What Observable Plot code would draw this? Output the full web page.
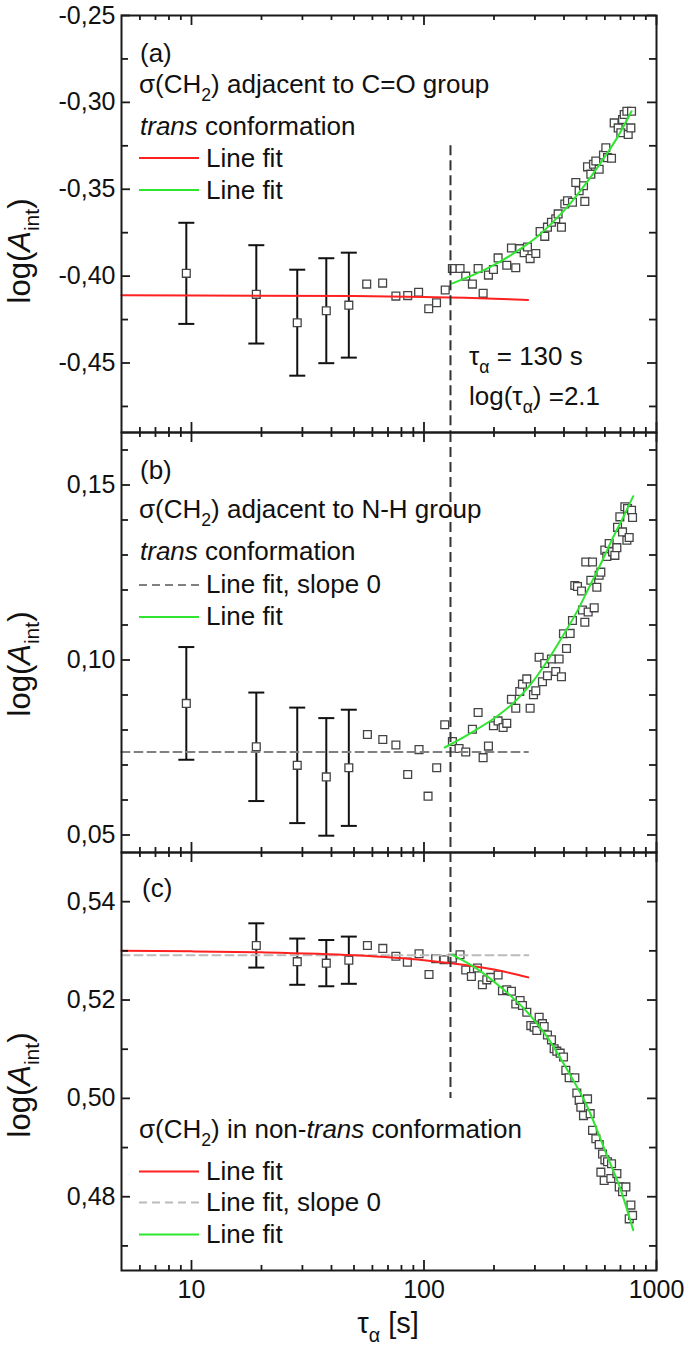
<!DOCTYPE html>
<html><head><meta charset="utf-8">
<script src="https://cdn.jsdelivr.net/npm/d3@7"></script>
<script src="https://cdn.jsdelivr.net/npm/@observablehq/plot@0.6"></script>
<style>
body{margin:0;background:#fff;}
#chart{position:relative;width:685px;height:1349px;overflow:hidden;background:#fff;}
</style></head><body><div id="chart"></div><script>
// ---------- shared x ----------
const xDomain = [5, 1000];
const xMinor = [6,7,8,9,20,30,40,50,60,70,80,90,200,300,400,500,600,700,800,900];
const xMajor = [10,100,1000];
const tauAlpha = 130;

// ---------- error-bar points ----------
const errTau = [9.5, 19, 28.5, 38, 47.5];
const errMeanA = [-0.3984, -0.4105, -0.4268, -0.4199, -0.4167];
const errHalfA = [0.0291, 0.0283, 0.0305, 0.0302, 0.0302];
const errMeanB = [0.0876, 0.0752, 0.0699, 0.0666, 0.0692];
const errHalfB = [0.0161, 0.0155, 0.0165, 0.0168, 0.0166];
const errTauC = [19, 28.5, 38, 47.5];
const errMeanC = [0.5311, 0.5278, 0.5275, 0.5281];
const errHalfC = [0.0045, 0.0047, 0.0047, 0.0048];

// ---------- panel (a) ----------
const tauA = [56.7,66.4,75.7,85.1,94.8,104.8,113.2,123.4,132.5,142.9,151.2,161.5,170.9,179.6,189.3,198.9,208.3,227.0,237.7,248.1,258.2,269.6,278.6,286.1,302.6,315.8,330.7,339.6,353.3,368.8,377.5,390.1,403.3,414.1,435.1,449.7,464.8,485.3,491.7,505.0,521.9,535.8,548.3,566.7,591.6,605.4,615.5,640.4,657.6,684.3,702.6,714.3,726.2,745.7,755.5,775.8,781.0];
const valA = [-0.4046,-0.4040,-0.4115,-0.4112,-0.4093,-0.4188,-0.4153,-0.4080,-0.3956,-0.3956,-0.4000,-0.4046,-0.3956,-0.4099,-0.3994,-0.3962,-0.3895,-0.3937,-0.3838,-0.3952,-0.3842,-0.3865,-0.3832,-0.3899,-0.3870,-0.3743,-0.3771,-0.3718,-0.3690,-0.3670,-0.3642,-0.3718,-0.3585,-0.3566,-0.3575,-0.3461,-0.3509,-0.3480,-0.3570,-0.3371,-0.3413,-0.3356,-0.3337,-0.3385,-0.3303,-0.3261,-0.3318,-0.3322,-0.3118,-0.3147,-0.3175,-0.3099,-0.3070,-0.3051,-0.3185,-0.3147,-0.3051];
const redTauA = [5, 50, 100, 150, 200, 280];
const redValA = [-0.4110, -0.4115, -0.4120, -0.4125, -0.4130, -0.4138];
const greenTauA = [132.5, 187.4, 252.3, 307.6, 362.9, 428.0, 505.0, 595.6, 679.8, 781.0];
const greenValA = [-0.4042, -0.3956, -0.3855, -0.3772, -0.3682, -0.3578, -0.3455, -0.3318, -0.3200, -0.3051];

// ---------- panel (b) ----------
const tauB = [57.1,66.5,75.7,85.1,95.2,104.1,113.4,122.8,132.5,141.5,151.2,161.5,170.9,179.6,189.3,198.9,208.3,218.9,227.0,237.7,248.1,258.2,265.1,276.7,286.1,295.7,302.6,312.7,323.2,330.7,339.6,353.3,368.8,381.2,390.1,398.0,410.1,425.2,435.1,445.3,457.2,475.8,480.4,491.7,496.6,508.2,521.9,530.6,539.5,553.8,566.7,576.2,599.5,611.5,625.8,647.0,662.1,675.3,679.8,695.6,714.3,731.0,745.7,750.7,763.0,781.0,788.7];
const valB = [0.0787,0.0773,0.0757,0.0673,0.0744,0.0611,0.0692,0.0815,0.0767,0.0747,0.0737,0.0802,0.0850,0.0721,0.0754,0.0812,0.0826,0.0807,0.0819,0.0888,0.0862,0.0910,0.0931,0.0946,0.0862,0.0901,0.0912,0.1008,0.0938,0.0990,0.0955,0.1003,0.0967,0.1003,0.0952,0.1075,0.1033,0.1076,0.1113,0.1213,0.1210,0.1197,0.1143,0.1108,0.1280,0.1137,0.1228,0.1280,0.1149,0.1208,0.1242,0.1251,0.1314,0.1296,0.1333,0.1309,0.1299,0.1321,0.1379,0.1409,0.1366,0.1438,0.1342,0.1433,0.1350,0.1428,0.1407];
const grayTauB = [5, 280];
const grayValB = [0.0737, 0.0737];
const greenTauB = [122.8, 164.2, 207.0, 244.1, 288.0, 339.6, 400.6, 457.2, 521.9, 585.9, 647.0, 714.3, 793.8];
const greenValB = [0.0750, 0.0797, 0.0840, 0.0879, 0.0931, 0.0998, 0.1075, 0.1141, 0.1218, 0.1285, 0.1347, 0.1404, 0.1468];

// ---------- panel (c) ----------
const tauC = [57.1,66.5,75.7,84.8,95.2,105.1,112.3,122.0,132.5,142.9,151.2,159.9,169.7,178.3,186.2,193.7,208.3,217.5,227.0,237.7,248.2,259.1,265.2,276.8,288.0,297.7,305.6,312.8,323.3,328.6,339.6,353.4,362.9,372.6,385.1,398.1,407.4,421.1,445.4,454.3,464.9,472.6,485.3,505.1,518.6,530.8,548.5,566.9,576.4,586.0,595.7,599.8,615.7,636.4,640.6,675.4,691.3,714.4,738.5,763.2,776.1,789.0];
const valC = [0.5311,0.5305,0.5289,0.5277,0.5294,0.5252,0.5284,0.5282,0.5285,0.5292,0.5261,0.5248,0.5265,0.5231,0.5241,0.5246,0.5251,0.5219,0.5221,0.5218,0.5192,0.5199,0.5189,0.5175,0.5148,0.5145,0.5138,0.5165,0.5152,0.5146,0.5129,0.5119,0.5101,0.5096,0.5092,0.5084,0.5057,0.5042,0.5042,0.5011,0.4996,0.4982,0.4965,0.4999,0.4969,0.4935,0.4918,0.4906,0.4850,0.4887,0.4833,0.4875,0.4871,0.4837,0.4867,0.4847,0.4820,0.4810,0.4820,0.4755,0.4783,0.4762];
const redTauC = [5, 10, 20, 50, 100, 150, 200, 250, 281];
const redValC = [0.5300, 0.5299, 0.5297, 0.5291, 0.5281, 0.5271, 0.5262, 0.5252, 0.5246];
const grayTauC = [5, 281];
const grayValC = [0.5291, 0.5291];
const greenTauC = [132.5, 169.7, 213.9, 278.6, 339.6, 414.2, 505.1, 615.7, 702.9, 794.0];
const greenValC = [0.5292, 0.5263, 0.5226, 0.5175, 0.5124, 0.5057, 0.4982, 0.4881, 0.4813, 0.4732];

// ---------- y ticks ----------
const yMajorA = [-0.45, -0.40, -0.35, -0.30, -0.25];
const yMinorA = [-0.475, -0.425, -0.375, -0.325, -0.275];
const yMajorB = [0.05, 0.10, 0.15];
const yMinorB = [0.06, 0.07, 0.08, 0.09, 0.11, 0.12, 0.13, 0.14, 0.16];
const yMajorC = [0.48, 0.50, 0.52, 0.54];
const yMinorC = [0.47, 0.49, 0.51, 0.53];

// ---------- helpers ----------
const zip = (xs, ys) => xs.map((t, i) => ({t, v: ys[i]}));
const errRows = (ts, m, h) => ts.map((t, i) => ({t, v: m[i], lo: m[i] - h[i], hi: m[i] + h[i]}));
const FONT = "'Liberation Sans', Arial, Helvetica, sans-serif";
const W = 685, ML = 121, MR = 29, PW = W - ML - MR;
const INK = "#111";
const RED = "#ff2020", GREEN = "#2ee62e";
const SQ = {symbol: "square", r: 4.4, stroke: "#444", fill: "white", strokeWidth: 1.3};
const capSymbol = {draw(ctx) { ctx.moveTo(-8, 0); ctx.lineTo(8, 0); }};
const container = document.getElementById("chart");
const FS = 26;

function errorMarks(rows) {
  return [
    Plot.ruleX(rows, {x: "t", y1: "lo", y2: "hi", stroke: INK, strokeWidth: 2}),
    Plot.dot(rows, {x: "t", y: "hi", symbol: capSymbol, stroke: INK, strokeWidth: 2, fill: "none"}),
    Plot.dot(rows, {x: "t", y: "lo", symbol: capSymbol, stroke: INK, strokeWidth: 2, fill: "none"}),
    Plot.dot(rows, {x: "t", y: "v", ...SQ})
  ];
}

function makePanel({svgTop, mTop, plotH, mBottom, yDomain, yMajor, yMinor, marks, xLabels}) {
  const H = mTop + plotH + mBottom;
  const fmt = v => v.toFixed(2).replace(".", ",");
  const ts = {stroke: "#1a1a1a", strokeWidth: 1.8};
  const chart = Plot.plot({
    width: W, height: H,
    marginLeft: ML, marginRight: MR, marginTop: mTop, marginBottom: mBottom,
    style: {fontFamily: FONT, background: "transparent", overflow: "visible", color: INK},
    x: {type: "log", domain: xDomain, axis: null},
    y: {domain: yDomain, axis: null},
    marks: [
      ...marks,
      Plot.ruleX(xMinor, {x: d => d, insetTop: plotH - 5, ...ts}),
      Plot.ruleX(xMinor, {x: d => d, insetBottom: plotH - 5, ...ts}),
      Plot.ruleX(xMajor, {x: d => d, insetTop: plotH - 10, ...ts}),
      Plot.ruleX(xMajor, {x: d => d, insetBottom: plotH - 10, ...ts}),
      Plot.ruleY(yMinor, {y: d => d, insetRight: PW - 7, ...ts}),
      Plot.ruleY(yMinor, {y: d => d, insetLeft: PW - 7, ...ts}),
      Plot.ruleY(yMajor, {y: d => d, insetRight: PW - 9, ...ts}),
      Plot.ruleY(yMajor, {y: d => d, insetLeft: PW - 9, ...ts}),
      Plot.text(yMajor, {y: d => d, frameAnchor: "left", dx: -6, textAnchor: "end", text: fmt, fontSize: 25, fill: INK}),
      xLabels ? Plot.text(xMajor, {x: d => d, frameAnchor: "bottom", lineAnchor: "top", dy: 10, text: d => String(d), fontSize: 25, fill: INK}) : null,
      Plot.frame({stroke: "#1a1a1a", strokeWidth: 2})
    ]
  });
  chart.style.position = "absolute";
  chart.style.left = "0px";
  chart.style.top = svgTop + "px";
  container.appendChild(chart);
  return chart;
}

function rich(t, segs, fs) {
  t.text(null);
  const shift = fs * 0.3;
  let cur = 0;
  for (const [s, st] of segs) {
    const sp = t.append("tspan").text(s);
    const target = st.includes("sub") ? shift : 0;
    if (target !== cur) { sp.attr("dy", target - cur); cur = target; }
    if (st.includes("sub")) sp.attr("font-size", fs * 0.68);
    if (st.includes("i")) sp.attr("font-style", "italic");
  }
}
function addText(svg, svgTop, x, yPage, segs, fs, opts = {}) {
  const y = yPage - svgTop;
  const t = d3.select(svg).append("text")
    .attr("x", x).attr("y", y)
    .attr("font-size", fs).attr("font-family", FONT).attr("fill", INK)
    .attr("text-anchor", opts.anchor || "start");
  if (opts.rotate) t.attr("transform", `rotate(${opts.rotate} ${x} ${y})`);
  rich(t, segs, fs);
}
function addSwatch(svg, svgTop, yPage, color, dash) {
  const l = d3.select(svg).append("line")
    .attr("x1", 139).attr("x2", 199).attr("y1", yPage - svgTop).attr("y2", yPage - svgTop)
    .attr("stroke", color).attr("stroke-width", 2);
  if (dash) l.attr("stroke-dasharray", dash);
}

const yTitle = [["log(", ""], ["A", "i"], ["int", "sub"], [")", ""]];
const ch2 = [["σ(CH", ""], ["2", "sub"]];
const transConf = [["trans", "i"], [" conformation", ""]];

// ---------- panel (a) ----------
const svgA = makePanel({
  svgTop: 0, mTop: 15, plotH: 417, mBottom: 10,
  yDomain: [-0.49, -0.25], yMajor: yMajorA, yMinor: yMinorA,
  marks: [
    ...errorMarks(errRows(errTau, errMeanA, errHalfA)),
    Plot.dot(zip(tauA, valA), {x: "t", y: "v", ...SQ}),
    Plot.line(zip(redTauA, redValA), {x: "t", y: "v", stroke: RED, strokeWidth: 2, curve: "monotone-x"}),
    Plot.line(zip(greenTauA, greenValA), {x: "t", y: "v", stroke: GREEN, strokeWidth: 2, curve: "monotone-x"}),
    Plot.ruleX([tauAlpha], {x: d => d, y1: -0.325, y2: -0.49, stroke: "#333", strokeWidth: 2, strokeDasharray: "10,5"})
  ]
});
addText(svgA, 0, 140, 62, [["(a)", ""]], FS);
addText(svgA, 0, 139, 93, [...ch2, [") adjacent to C=O group", ""]], FS);
addText(svgA, 0, 140, 135, transConf, FS);
addSwatch(svgA, 0, 158, RED);
addText(svgA, 0, 206, 167, [["Line fit", ""]], FS);
addSwatch(svgA, 0, 190, GREEN);
addText(svgA, 0, 206, 199, [["Line fit", ""]], FS);
addText(svgA, 0, 469, 365, [["τ", ""], ["α", "sub"], [" = 130 s", ""]], FS);
addText(svgA, 0, 469, 405, [["log(τ", ""], ["α", "sub"], [") =2.1", ""]], FS);
addText(svgA, 0, 30, 251, yTitle, 31, {anchor: "middle", rotate: -90});

// ---------- panel (b) ----------
const svgB = makePanel({
  svgTop: 422, mTop: 10, plotH: 420, mBottom: 10,
  yDomain: [0.045, 0.165], yMajor: yMajorB, yMinor: yMinorB,
  marks: [
    ...errorMarks(errRows(errTau, errMeanB, errHalfB)),
    Plot.dot(zip(tauB, valB), {x: "t", y: "v", ...SQ}),
    Plot.line(zip(grayTauB, grayValB), {x: "t", y: "v", stroke: "#808080", strokeWidth: 2, strokeDasharray: "8,5"}),
    Plot.line(zip(greenTauB, greenValB), {x: "t", y: "v", stroke: GREEN, strokeWidth: 2, curve: "monotone-x"}),
    Plot.ruleX([tauAlpha], {x: d => d, stroke: "#333", strokeWidth: 2, strokeDasharray: "10,5"})
  ]
});
addText(svgB, 422, 140, 479, [["(b)", ""]], FS);
addText(svgB, 422, 139, 518, [...ch2, [") adjacent to N-H group", ""]], FS);
addText(svgB, 422, 140, 560, transConf, FS);
addSwatch(svgB, 422, 585, "#808080", "8,5");
addText(svgB, 422, 206, 593, [["Line fit, slope 0", ""]], FS);
addSwatch(svgB, 422, 617, GREEN);
addText(svgB, 422, 206, 625, [["Line fit", ""]], FS);
addText(svgB, 422, 30, 664, yTitle, 31, {anchor: "middle", rotate: -90});

// ---------- panel (c) ----------
const svgC = makePanel({
  svgTop: 842, mTop: 10, plotH: 418, mBottom: 79,
  yDomain: [0.465, 0.55], yMajor: yMajorC, yMinor: yMinorC, xLabels: true,
  marks: [
    ...errorMarks(errRows(errTauC, errMeanC, errHalfC)),
    Plot.dot(zip(tauC, valC), {x: "t", y: "v", ...SQ}),
    Plot.line(zip(grayTauC, grayValC), {x: "t", y: "v", stroke: "#bbbbbb", strokeWidth: 2, strokeDasharray: "8,5"}),
    Plot.line(zip(redTauC, redValC), {x: "t", y: "v", stroke: RED, strokeWidth: 2, curve: "monotone-x"}),
    Plot.line(zip(greenTauC, greenValC), {x: "t", y: "v", stroke: GREEN, strokeWidth: 2, curve: "monotone-x"}),
    Plot.ruleX([tauAlpha], {x: d => d, y1: 0.55, y2: 0.50, stroke: "#333", strokeWidth: 2, strokeDasharray: "10,5"})
  ]
});
addText(svgC, 842, 142, 897, [["(c)", ""]], FS);
addText(svgC, 842, 139, 1138, [...ch2, [") in non-", ""], ["trans", "i"], [" conformation", ""]], FS);
addSwatch(svgC, 842, 1171.5, RED);
addText(svgC, 842, 206, 1180, [["Line fit", ""]], FS);
addSwatch(svgC, 842, 1202.5, "#bbbbbb", "8,5");
addText(svgC, 842, 206, 1211, [["Line fit, slope 0", ""]], FS);
addSwatch(svgC, 842, 1234.5, GREEN);
addText(svgC, 842, 206, 1243, [["Line fit", ""]], FS);
addText(svgC, 842, 30, 1085, yTitle, 31, {anchor: "middle", rotate: -90});
addText(svgC, 842, 388, 1333, [["τ", ""], ["α", "sub"], [" [s]", ""]], 29, {anchor: "middle"});
</script></body></html>
